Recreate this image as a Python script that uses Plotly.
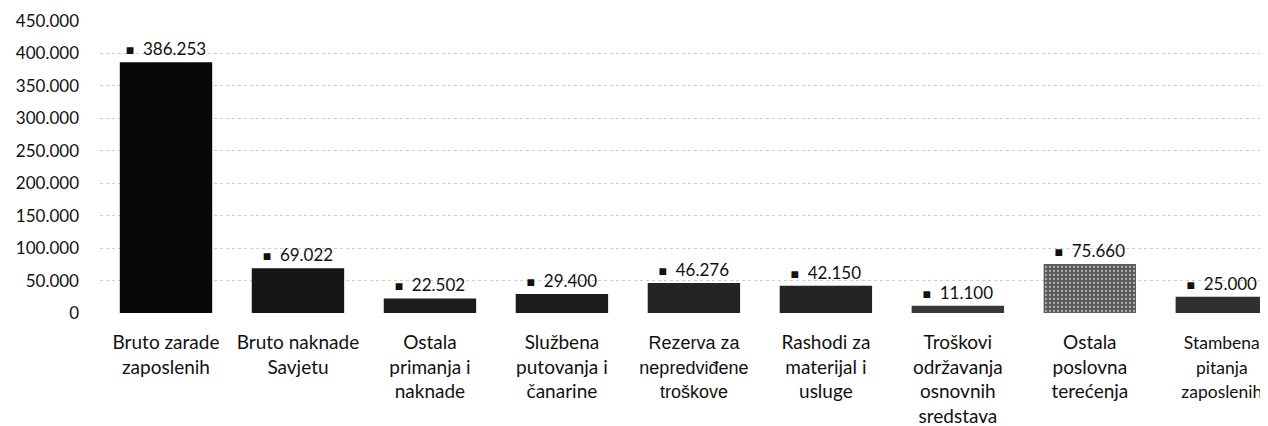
import plotly.graph_objects as go

categories = [
    "Bruto zarade<br>zaposlenih",
    "Bruto naknade<br>Savjetu",
    "Ostala<br>primanja i<br>naknade",
    "Službena<br>putovanja i<br>čanarine",
    "<span style='font-family:Liberation Sans;font-size:18px'>Rezerva za<br>nepredviđene<br>troškove</span>",
    "Rashodi za<br>materijal i<br>usluge",
    "Troškovi<br>održavanja<br>osnovnih<br>sredstava",
    "Ostala<br>poslovna<br>terećenja",
    "<span style='font-size:17.5px'>Stambena<br>pitanja<br>zaposlenih</span>",
]
values = [386253, 69022, 22502, 29400, 46276, 42150, 11100, 75660, 25000]
value_labels = ["386.253", "69.022", "22.502", "29.400", "46.276", "42.150", "11.100", "75.660", "25.000"]
bar_colors = ["#080808", "#151515", "#1c1c1c", "#1c1c1c", "#242424", "#242424", "#383838", "#5a5a5a", "#303030"]
bar_patterns = ["", "", "", "", "", "", "", ".", ""]
tick_vals = [0, 50000, 100000, 150000, 200000, 250000, 300000, 350000, 400000, 450000]
tick_text = ["0", "50.000", "100.000", "150.000", "200.000", "250.000", "300.000", "350.000", "400.000", "450.000"]

x_idx = list(range(len(categories)))
texts = ["<span style='font-size:14px'><b>■</b></span>  " + t for t in value_labels]

fig = go.Figure(
    go.Bar(
        x=x_idx,
        y=values,
        width=0.7,
        marker=dict(
            color=bar_colors,
            line=dict(width=0),
            pattern=dict(shape=bar_patterns, fgcolor="#d0d0d0", size=4, solidity=0.25, fillmode="overlay"),
        ),
        text=texts,
        textposition="outside",
        textfont=dict(family="Lato", size=17, color="#111"),
        cliponaxis=False,
    )
)

# the page body has an 8px default margin, so the figure is offset by 8px
fig.update_layout(
    width=1260,
    height=418,
    margin=dict(l=92, r=0, t=13, b=113),
    paper_bgcolor="white",
    plot_bgcolor="white",
    showlegend=False,
    font=dict(family="Lato", size=17, color="#111"),
    xaxis=dict(
        range=[-0.5, 8.35],
        tickmode="array",
        tickvals=x_idx,
        ticktext=categories,
        tickangle=0,
        showgrid=False,
        showline=False,
        zeroline=False,
        ticks="",
        automargin=False,
        ticklabelstandoff=16,
        tickfont=dict(family="Lato", size=19, color="#111"),
    ),
    yaxis=dict(
        range=[0, 450000],
        tickmode="array",
        tickvals=tick_vals,
        ticktext=tick_text,
        showgrid=True,
        gridcolor="#cccccc",
        griddash="dot",
        gridwidth=1,
        zeroline=False,
        showline=False,
        ticks="",
        automargin=False,
        ticklabelstandoff=20,
        tickfont=dict(family="Lato", size=17, color="#111"),
    ),
)

fig.write_html("out.html")
